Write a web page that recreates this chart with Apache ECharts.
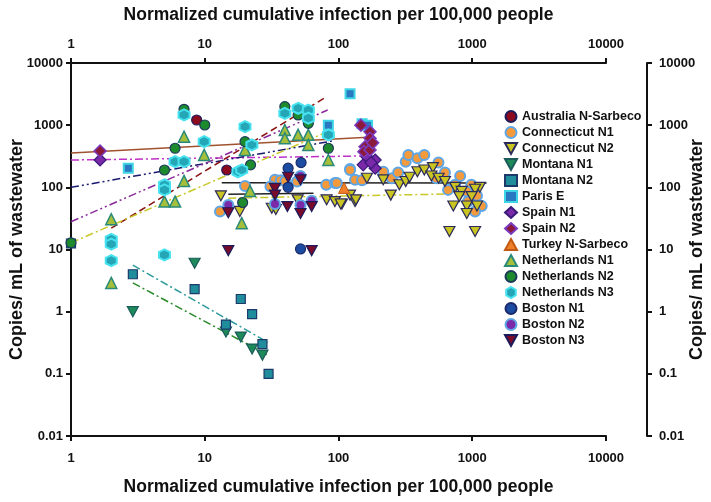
<!DOCTYPE html>
<html><head><meta charset="utf-8">
<script src="https://cdn.jsdelivr.net/npm/echarts@6/dist/echarts.min.js"></script>
<style>html,body{margin:0;padding:0;background:#fff}#c{width:711px;height:502px}</style>
</head><body><div id="c"></div><script>
// ---------- data (x = cumulative infection per 100,000; y = copies/mL) ----------
const seriesNames = ['Australia N-Sarbeco','Connecticut N1','Connecticut N2','Montana N1','Montana N2','Paris E','Spain N1','Spain N2','Turkey N-Sarbeco','Netherlands N1','Netherlands N2','Netherlands N3','Boston N1','Boston N2','Boston N3'];
const xTickLabels = ['1','10','100','1000','10000'];
const yTickLabels = ['0.01','0.1','1','10','100','1000','10000'];

const australiaN = [[8.7,1210],[14.6,190]];
const connecticutN1 = [[13,41],[20,105],[33.5,132],[37,130],[40,125],[31,103],[49,124],[81,110],[94,117],[97,117],[122,197],[133,132],[122,190],[150,130],[216,178],[250,140],[279,173],[318,259],[333,332],[389,293],[438,332],[559,250],[625,173],[540,140],[812,152],[745,110],[985,110],[660,91],[910,86],[1085,73],[1177,50],[1050,41],[930,59]];
const connecticutN2 = [[13.2,73],[18.3,41],[31.7,46],[34,44],[49.5,63],[81.5,63],[94,59],[106,54],[133,59],[122,75],[104,54],[135,63],[163,140],[216,132],[246,75],[285,110],[318,124],[340,145],[389,178],[438,190],[508,208],[495,152],[560,140],[625,124],[745,100],[833,86],[800,71],[722,50],[910,50],[910,38],[1085,50],[1140,100],[1050,93],[990,71],[675,19.5],[1050,19.5]];
const montanaN1 = [[2.9,1.0],[8.4,6.0],[14.4,0.47],[18.6,0.39],[22.6,0.25],[27,0.2]];
const montanaN2 = [[1,12.5],[2.9,4.0],[8.4,2.3],[18.6,1.6],[22.6,0.91],[14.4,0.62],[27,0.3],[30,0.1]];
const parisE = [[2.68,203],[84,1000],[122,3200],[150,1050],[165,1000]];
const spainN1 = [[1.65,275],[153,230],[188,275],[188,203],[163,310],[175,250]];
const spainN2 = [[1.65,385],[147,1000],[172,785],[172,615],[158,450],[155,375],[172,400],[180,520]];
const turkeyN = [[110,98]];
const netherlandsN1 = [[2,30.7],[2,2.9],[5,59],[6,59],[7,653],[7,127],[9.9,332],[18.9,26.5],[20,400],[21.8,87.6],[39.7,837],[39.7,615],[49.9,700],[59.5,700],[59.5,480],[84,275]];
const netherlandsN2 = [[1,12.8],[6,425],[7,1800],[10,1007],[5,190],[20,543],[22,230],[19.2,57],[39.7,1990],[49.9,1460],[59.5,1070],[84,425]];
const netherlandsN3 = [[2,14.6],[2,12.2],[2,6.6],[6,259],[7,259],[7,1460],[9.9,543],[5,110],[5,91],[5,8.2],[17.7,178],[20,946],[22.5,480],[18.9,190],[39.7,1550],[49.9,1870],[59.5,1750],[59.5,1300],[84,700]];
const bostonN1 = [[42,203],[42,100],[52.5,250],[52,10.2]];
const bostonN2 = [[15,52],[33.5,54],[52,152],[52,52],[63,61]];
const bostonN3 = [[15,9.6],[15,39],[42,145],[33.5,96],[33.5,75],[41.5,49],[52,132],[52,38],[63,49],[63,9.6]];

// trend lines (endpoints)
const trendBrown = [[1,357],[180,645]];
const trendMagenta = [[1,275],[165,320]];
const trendNavy = [[1,100],[91,560]];
const trendPurple = [[1,28],[83,1750]];
const trendDarkRed = [[2,22],[80,2800]];
const trendYellowA = [[1,12.8],[83,787]];
const trendYellowB = [[15,67],[650,78]];
const trendBlackA = [[13.4,119],[1280,117]];
const trendBlackB = [[15,77.6],[65,80]];
const trendTeal = [[2.9,5.6],[29.7,0.32]];
const trendGreen = [[2.9,2.9],[29.7,0.2]];

// ---------- styles ----------
const hex = 'path://M5,0 L9.33,2.5 L9.33,7.5 L5,10 L0.67,7.5 L0.67,2.5 Z';
const downTri = 'path://M0,0 L10,0 L5,9 Z';
const pointStyles = [
  {d: australiaN, s:'circle', size:10, c:'#8b0a1e', b:'#1c1c5c', bw:1.2},
  {d: connecticutN1, s:'circle', size:10, c:'#f39a3c', b:'#5fa6e6', bw:2},
  {d: connecticutN2, s:downTri, size:[11,10], c:'#c9c422', b:'#2b2b5b', bw:1.2},
  {d: montanaN1, s:downTri, size:[11,10], c:'#1d8a5a', b:'#1b5b5b', bw:1.2},
  {d: montanaN2, s:'rect', size:9, c:'#1f8d9c', b:'#1b3a6a', bw:1.2},
  {d: parisE, s:'rect', size:9, c:'#2a78c2', b:'#3ed6e6', bw:2},
  {d: spainN1, s:'diamond', size:12, c:'#7a2aa8', b:'#3a1a7a', bw:1.2},
  {d: spainN2, s:'diamond', size:12, c:'#8b1a3a', b:'#7a3ac0', bw:1.5},
  {d: turkeyN, s:'triangle', size:11, c:'#f0802a', b:'#c05a10', bw:1},
  {d: netherlandsN1, s:'triangle', size:11, c:'#a6bf3a', b:'#2a8a7a', bw:1.5},
  {d: netherlandsN2, s:'circle', size:10, c:'#1e8a2e', b:'#1b3a5a', bw:1.2},
  {d: netherlandsN3, s:hex, size:11, c:'#24a6b6', b:'#46e2f0', bw:2},
  {d: bostonN1, s:'circle', size:10, c:'#1c4ca2', b:'#1b2a6a', bw:1.2},
  {d: bostonN2, s:'circle', size:10, c:'#7a2aa8', b:'#5fa6e6', bw:2},
  {d: bostonN3, s:downTri, size:[11,10], c:'#7a0a2a', b:'#1b1b5b', bw:1.2}
];
const dashDot = [8,3,2,3];
const dashDotDot = [8,3,2,3,2,3];
const lineStyles = [
  {d: trendBrown, c:'#a0522d', t:'solid'},
  {d: trendMagenta, c:'#c030c8', t:dashDot},
  {d: trendNavy, c:'#1a1a70', t:dashDotDot},
  {d: trendPurple, c:'#8a2a9a', t:dashDotDot},
  {d: trendDarkRed, c:'#8b1010', t:[7,4]},
  {d: trendYellowA, c:'#c8c828', t:dashDot},
  {d: trendYellowB, c:'#c8c828', t:dashDot},
  {d: trendBlackA, c:'#222222', t:'solid'},
  {d: trendBlackB, c:'#222222', t:'solid'},
  {d: trendTeal, c:'#2a9a9a', t:dashDot},
  {d: trendGreen, c:'#2a8a2a', t:dashDot}
];

const series = [];
lineStyles.forEach(l => series.push({
  type:'line', data:l.d, symbol:'none', silent:true, z:1,
  lineStyle:{color:l.c, width:1.5, type:l.t}
}));
pointStyles.forEach((p,i) => series.push({
  name: seriesNames[i], type:'scatter', data:p.d, symbol:p.s, symbolSize:p.size, z:2,
  itemStyle:{color:p.c, borderColor:p.b, borderWidth:p.bw, opacity:1}
}));

const fmt = v => String(+Number(v).toPrecision(3));
const font = 'Liberation Sans, Arial, sans-serif';
const axisCommon = {
  type:'log', logBase:10,
  axisLine:{show:true, lineStyle:{color:'#111', width:2}},
  axisTick:{show:true, length:5, lineStyle:{color:'#111', width:2}},
  minorTick:{show:false}, splitLine:{show:false},
  axisLabel:{color:'#111', fontWeight:'bold', fontSize:13, fontFamily:font, formatter:fmt},
  nameTextStyle:{color:'#111', fontWeight:'bold', fontSize:17.5, fontFamily:font},
  nameLocation:'middle', nameMoveOverlap:false
};
const yNameStyle = {color:'#111', fontWeight:'bold', fontSize:18, fontFamily:font};
const xName = 'Normalized cumulative infection per 100,000 people';
const yName = 'Copies/ mL of wastewater';

const chart = echarts.init(document.getElementById('c'), null, {renderer:'canvas'});
chart.setOption({
  backgroundColor:'#fff',
  animation:false,
  grid:{left:71, right:105, top:63, bottom:66, containLabel:false, outerBoundsMode:'none'},
  legend:{
    data: seriesNames, orient:'vertical', left:499, top:105,
    itemWidth:12, itemHeight:11, itemGap:3,
    textStyle:{color:'#111', fontWeight:'bold', fontSize:12.5, fontFamily:font},
    selectedMode:false
  },
  xAxis:[
    Object.assign({}, axisCommon, {position:'bottom', min:1, max:10000, name:xName, nameGap:42,
      axisLabel:Object.assign({}, axisCommon.axisLabel, {margin:16})}),
    Object.assign({}, axisCommon, {position:'top', min:1, max:10000, name:xName, nameGap:39,
      axisLabel:Object.assign({}, axisCommon.axisLabel, {margin:12})})
  ],
  yAxis:[
    Object.assign({}, axisCommon, {position:'left', min:0.01, max:10000, name:yName, nameGap:45, nameRotate:90,
      nameTextStyle:yNameStyle,
      axisLabel:Object.assign({}, axisCommon.axisLabel, {margin:8})}),
    Object.assign({}, axisCommon, {position:'right', offset:41, min:0.01, max:10000, name:yName, nameGap:41, nameRotate:90,
      nameTextStyle:yNameStyle,
      axisLabel:Object.assign({}, axisCommon.axisLabel, {margin:12})})
  ],
  series: series
});
</script></body></html>
